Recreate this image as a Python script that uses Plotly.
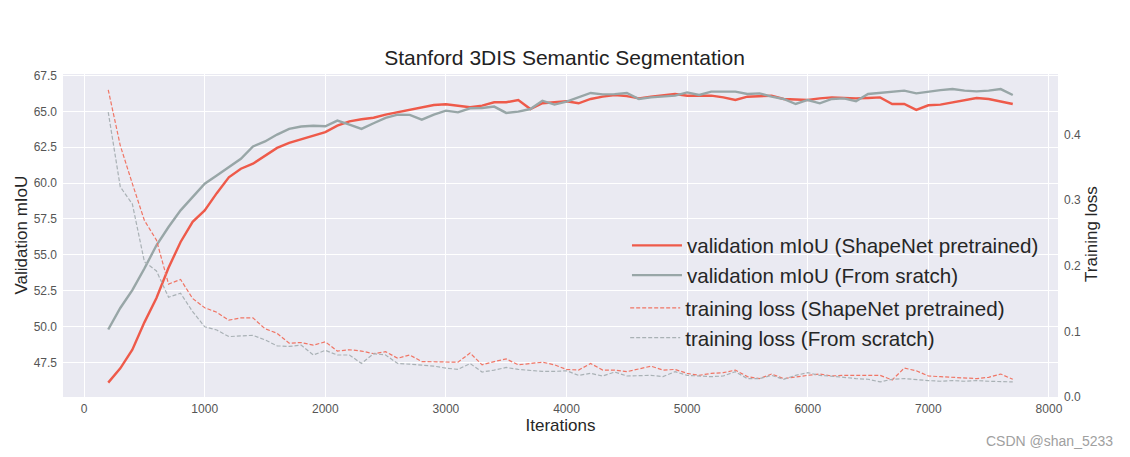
import plotly.graph_objects as go

iterations = list(range(200, 7800, 100))

val_pretrained = [
    46.1, 47.1, 48.4, 50.3, 52.0, 54.1, 55.9, 57.3, 58.1, 59.3,
    60.4, 61.0, 61.35, 61.9, 62.45, 62.8, 63.05, 63.3, 63.55, 64.0,
    64.3, 64.45, 64.55, 64.77, 64.93, 65.14, 65.28, 65.44, 65.49, 65.40,
    65.28, 65.40, 65.63, 65.63, 65.79, 65.16, 65.56, 65.63, 65.70, 65.56,
    65.86, 66.02, 66.14, 66.06, 65.90, 66.02, 66.14, 66.21, 66.09, 66.09,
    66.09, 65.97, 65.79, 66.02, 66.07, 66.09, 65.86, 65.81, 65.79, 65.90,
    65.97, 65.93, 65.90, 65.93, 65.97, 65.51, 65.51, 65.10, 65.42, 65.47,
    65.63, 65.81, 65.93, 65.86, 65.70, 65.51,
]

val_scratch = [
    49.8, 51.3, 52.55, 54.05, 55.67, 56.94, 58.1, 59.03, 59.96, 60.53,
    61.11, 61.69, 62.55, 62.9, 63.38, 63.78, 63.94, 64.0, 63.96, 64.35,
    64.08, 63.78, 64.17, 64.54, 64.77, 64.75, 64.42, 64.77, 65.05, 64.93,
    65.21, 65.23, 65.33, 64.89, 64.98, 65.16, 65.74, 65.47, 65.67, 65.97,
    66.28, 66.18, 66.20, 66.28, 65.86, 65.97, 66.02, 66.09, 66.32, 66.14,
    66.37, 66.39, 66.37, 66.21, 66.25, 66.02, 65.86, 65.51, 65.79, 65.56,
    65.86, 65.90, 65.70, 66.21, 66.28, 66.37, 66.44, 66.25, 66.37, 66.48,
    66.55, 66.44, 66.39, 66.44, 66.55, 66.14,
]

loss_pretrained = [
    0.468, 0.383, 0.325, 0.269, 0.239, 0.172, 0.179, 0.150, 0.136, 0.129,
    0.117, 0.1205, 0.1205, 0.104, 0.097, 0.082, 0.083, 0.079, 0.084, 0.070,
    0.072, 0.070, 0.066, 0.069, 0.059, 0.064, 0.054, 0.054, 0.054, 0.053,
    0.067, 0.049, 0.054, 0.058, 0.049, 0.051, 0.053, 0.049, 0.042, 0.041,
    0.051, 0.041, 0.041, 0.0385, 0.043, 0.047, 0.041, 0.042, 0.036, 0.033,
    0.036, 0.037, 0.041, 0.031, 0.028, 0.035, 0.028, 0.031, 0.033, 0.035,
    0.032, 0.033, 0.033, 0.033, 0.033, 0.026, 0.044, 0.040, 0.032, 0.031,
    0.030, 0.028, 0.028, 0.030, 0.035, 0.027,
]

loss_scratch = [
    0.434, 0.320, 0.294, 0.206, 0.192, 0.152, 0.158, 0.130, 0.107, 0.102,
    0.092, 0.093, 0.094, 0.087, 0.078, 0.077, 0.079, 0.064, 0.071, 0.064,
    0.064, 0.051, 0.066, 0.064, 0.051, 0.050, 0.049, 0.047, 0.044, 0.042,
    0.051, 0.038, 0.041, 0.045, 0.042, 0.040, 0.039, 0.039, 0.040, 0.033,
    0.036, 0.032, 0.038, 0.032, 0.033, 0.033, 0.031, 0.0385, 0.033, 0.032,
    0.031, 0.032, 0.0385, 0.028, 0.028, 0.033, 0.027, 0.033, 0.037, 0.033,
    0.032, 0.030, 0.028, 0.027, 0.023, 0.027, 0.028, 0.026, 0.025, 0.024,
    0.025, 0.024, 0.025, 0.024, 0.024, 0.023,
]

FONT = "Liberation Sans, Arial, sans-serif"
RED = "#ee5a4a"
GRAY = "#98a6a7"
RED_D = "#f07565"
GRAY_D = "#a9b1b5"

fig = go.Figure()
fig.add_trace(go.Scatter(x=iterations, y=val_pretrained, mode="lines",
                         name="validation mIoU (ShapeNet pretrained)",
                         line=dict(color=RED, width=2.4), legend="legend"))
fig.add_trace(go.Scatter(x=iterations, y=val_scratch, mode="lines",
                         name="validation mIoU (From sratch)",
                         line=dict(color=GRAY, width=2.4), legend="legend"))
fig.add_trace(go.Scatter(x=iterations, y=loss_pretrained, mode="lines",
                         name="training loss (ShapeNet pretrained)", yaxis="y2",
                         line=dict(color=RED_D, width=1.2, dash="4px,2px"), legend="legend2"))
fig.add_trace(go.Scatter(x=iterations, y=loss_scratch, mode="lines",
                         name="training loss (From scratch)", yaxis="y2",
                         line=dict(color=GRAY_D, width=1.2, dash="4px,2px"), legend="legend2"))

tick_font = dict(family=FONT, size=12, color="#555555")

# The page body has an 8px margin, so the figure is sized to fit the window.
fig.update_layout(
    width=1122, height=449,
    margin=dict(l=55, r=72, t=66, b=60, autoexpand=False),
    paper_bgcolor="white",
    plot_bgcolor="#eaeaf2",
    font=dict(family=FONT, color="#262626"),
    title=dict(text="Stanford 3DIS Semantic Segmentation", x=0.496, xanchor="center",
               y=1 - 50 / 449, yanchor="middle", yref="container",
               font=dict(family=FONT, size=21, color="#222222")),
    xaxis=dict(range=[-175, 8075], dtick=1000, tick0=0, showgrid=True,
               gridcolor="white", gridwidth=1.3, zeroline=False, showline=False,
               tickfont=tick_font, ticks="", ticklabelstandoff=3, automargin=False,
               title=dict(text="Iterations", font=dict(family=FONT, size=17, color="#262626"),
                          standoff=2)),
    yaxis=dict(range=[45.1, 67.6], dtick=2.5, tick0=47.5, tickformat=".1f",
               showgrid=True, gridcolor="white", gridwidth=1.3, zeroline=False,
               showline=False, tickfont=tick_font, ticks="", ticklabelstandoff=5,
               automargin=False),
    yaxis2=dict(range=[0, 0.492], dtick=0.1, tick0=0, tickformat=".1f",
                overlaying="y", side="right", showgrid=False, zeroline=False,
                showline=False, tickfont=tick_font, ticks="", ticklabelstandoff=5,
                automargin=False),
    legend=dict(x=0.5668, xanchor="left", y=0.531, yanchor="top",
                bgcolor="rgba(0,0,0,0)", itemwidth=50,
                font=dict(family=FONT, size=20.6, color="#262626")),
    legend2=dict(x=0.5650, xanchor="left", y=0.3377, yanchor="top",
                 bgcolor="rgba(0,0,0,0)", itemwidth=50,
                 font=dict(family=FONT, size=20.6, color="#262626")),
    showlegend=True,
)

# axis titles placed as annotations for exact positioning
fig.add_annotation(text="Validation mIoU", xref="paper", yref="paper",
                   x=(21 - 63) / 995, y=0.5, xanchor="center", yanchor="middle",
                   textangle=-90, showarrow=False,
                   font=dict(family=FONT, size=17, color="#262626"))
fig.add_annotation(text="Training loss", xref="paper", yref="paper",
                   x=(1092 - 63) / 995, y=0.505, xanchor="center", yanchor="middle",
                   textangle=-90, showarrow=False,
                   font=dict(family=FONT, size=17, color="#262626"))

fig.add_annotation(text="CSDN @shan_5233", xref="paper", yref="paper",
                   x=(1115 - 63) / 995, xanchor="right",
                   y=(397 - 441) / 323, yanchor="middle",
                   showarrow=False, font=dict(family=FONT, size=14, color="#a0a0a0"))

fig.write_html("out.html")
